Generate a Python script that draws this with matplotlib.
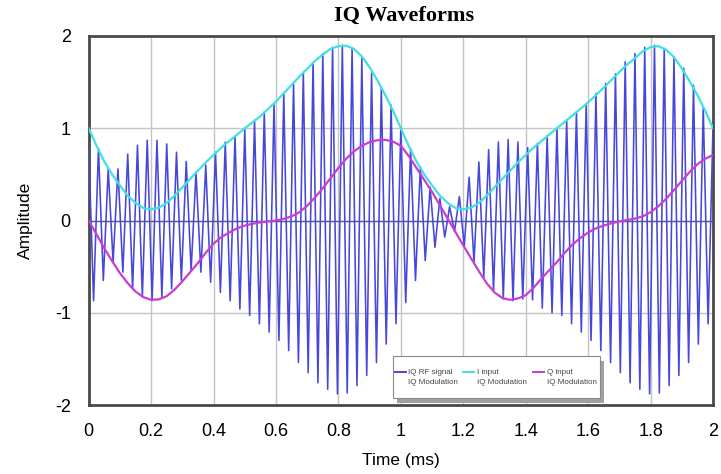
import numpy as np
import matplotlib
matplotlib.use("Agg")
import matplotlib.pyplot as plt
from matplotlib.patches import Rectangle
from matplotlib.lines import Line2D

plt.rcParams["axes.unicode_minus"] = False

# I / Q baseband inputs, sampled every 0.025 ms
t_iq = np.arange(81) * 0.025
i_input = [1.00, 0.81, 0.64, 0.50, 0.38, 0.27, 0.19, 0.135, 0.12, 0.14,
           0.19, 0.27, 0.36, 0.45, 0.54, 0.63, 0.71, 0.79, 0.86, 0.93,
           1.00, 1.065, 1.13, 1.21, 1.29, 1.38, 1.47, 1.56, 1.645, 1.73,
           1.80, 1.86, 1.89, 1.895, 1.86, 1.78, 1.66, 1.52, 1.36, 1.19,
           1.00, 0.81, 0.64, 0.50, 0.38, 0.27, 0.19, 0.135, 0.12, 0.14,
           0.19, 0.27, 0.36, 0.45, 0.54, 0.63, 0.71, 0.79, 0.86, 0.93,
           1.00, 1.07, 1.14, 1.21, 1.28, 1.36, 1.44, 1.525, 1.61, 1.69,
           1.76, 1.835, 1.88, 1.89, 1.85, 1.77, 1.65, 1.51, 1.36, 1.19,
           1.00]
q_input = [0.00, -0.15, -0.30, -0.44, -0.57, -0.68, -0.77, -0.83, -0.86, -0.855,
           -0.82, -0.75, -0.66, -0.56, -0.46, -0.35, -0.25, -0.18, -0.13, -0.085,
           -0.055, -0.035, -0.02, -0.01, 0.00, 0.018, 0.045, 0.09, 0.16, 0.25,
           0.35, 0.46, 0.57, 0.67, 0.75, 0.81, 0.85, 0.87, 0.875, 0.855,
           0.81, 0.70, 0.57, 0.44, 0.31, 0.165, 0.02, -0.125, -0.27, -0.41,
           -0.55, -0.68, -0.78, -0.84, -0.86, -0.845, -0.81, -0.73, -0.63, -0.54,
           -0.45, -0.35, -0.26, -0.19, -0.13, -0.085, -0.055, -0.03, -0.01, 0.005,
           0.02, 0.045, 0.09, 0.155, 0.235, 0.33, 0.43, 0.525, 0.61, 0.67,
           0.71]

# RF carrier peaks (32 kHz): maxima at k/32 ms, minima half a cycle later
rf_max = [0.80, 0.78, 0.56, 0.56, 0.72, 0.815, 0.87, 0.87, 0.83, 0.74,
          0.64, 0.525, 0.60, 0.74, 0.85, 0.91, 0.99,
          1.087, 1.177, 1.268, 1.377, 1.486, 1.61, 1.714, 1.81, 1.877,
          1.90, 1.866, 1.76, 1.60, 1.44, 1.25, 1.01,
          0.78, 0.58, 0.36, 0.24, 0.15, 0.26, 0.47, 0.634, 0.768,
          0.851, 0.877, 0.851, 0.79, 0.835, 0.92, 1.00,
          1.087, 1.177, 1.268, 1.377, 1.486, 1.59, 1.72, 1.81, 1.877,
          1.90, 1.866, 1.775, 1.65, 1.467, 1.23, 1.01]
rf_min = [-0.87, -0.65, -0.45, -0.56, -0.74, -0.83, -0.87, -0.83, -0.74, -0.65,
          -0.54, -0.56, -0.67, -0.78, -0.87, -0.96,
          -1.03, -1.12, -1.21, -1.30, -1.41, -1.54, -1.65, -1.76, -1.83,
          -1.88, -1.87, -1.79, -1.68, -1.54, -1.34, -1.12,
          -0.89, -0.65, -0.435, -0.29, -0.18, -0.12, -0.28, -0.45, -0.62,
          -0.76, -0.85, -0.87, -0.85, -0.86, -0.95, -1.00,
          -1.03, -1.12, -1.21, -1.30, -1.41, -1.54, -1.65, -1.76, -1.83,
          -1.88, -1.87, -1.79, -1.68, -1.54, -1.34, -1.12]
carrier_khz = 32

rf = np.empty(len(rf_max) + len(rf_min))
rf[0::2] = rf_max
rf[1::2] = rf_min
t_rf = np.arange(len(rf)) / (2.0 * carrier_khz)

W, H = 721, 474
fig = plt.figure(figsize=(W / 100, H / 100), dpi=100)
ax = fig.add_axes([88.7 / W, 1 - 405 / H, (713 - 88.7) / W, (405 - 36) / H])

ax.plot(t_rf, rf, color="#4747da", lw=1.15, zorder=3)
ax.plot(t_iq, i_input, color="#3fe0e6", lw=1.6, zorder=4, solid_joinstyle="round")
ax.plot(t_iq, q_input, color="#c83cd8", lw=1.6, zorder=4, solid_joinstyle="round")
ax.axhline(0, color="#5a5a8c", lw=1.0, zorder=2)

ax.set_xlim(0, 2)
ax.set_ylim(-2, 2)
ax.set_xticks(np.arange(0, 2.01, 0.2))
ax.set_xticklabels(["0", "0.2", "0.4", "0.6", "0.8", "1", "1.2", "1.4",
                    "1.6", "1.8", "2"])
ax.set_yticks([-2, -1, 0, 1, 2])
ax.grid(True, color="#c4c4c4", lw=1.0)
ax.set_axisbelow(True)
ax.tick_params(length=0, labelsize=13, pad=13)
for lab in ax.get_xticklabels() + ax.get_yticklabels():
    lab.set_family("Liberation Sans")
for sp in ax.spines.values():
    sp.set_color("#4a4a4a")
    sp.set_linewidth(2.0)

ax.set_xlabel("Time (ms)", family="Liberation Sans", fontsize=12.5, labelpad=9)
ax.set_ylabel("Amplitude", family="Liberation Sans", fontsize=12.5, labelpad=16)
fig.text(404 / W, 1 - 16 / H, "IQ Waveforms", family="Liberation Serif",
         weight="bold", fontsize=16, ha="center", va="center")

# legend box with drop shadow
def fx(x):
    return x / W


def fy(y):
    return 1 - y / H


bx0, bx1, by0, by1 = 393, 600, 356, 398
fig.patches.append(Rectangle((fx(bx0 + 4), fy(by1 + 5)), fx(bx1 - bx0), (by1 - by0) / H,
                             transform=fig.transFigure, facecolor="#a0a0a0",
                             edgecolor="none", zorder=5))
fig.patches.append(Rectangle((fx(bx0), fy(by1)), fx(bx1 - bx0), (by1 - by0) / H,
                             transform=fig.transFigure, facecolor="white",
                             edgecolor="#8a8a8a", lw=0.8, zorder=6))
entries = [("IQ RF signal", "#4747da", 395, 408),
           ("I input", "#3fe0e6", 463, 477),
           ("Q input", "#c83cd8", 533, 547)]
for name, col, lx, tx in entries:
    fig.lines.append(Line2D([fx(lx), fx(lx + 11)], [fy(372), fy(372)],
                            transform=fig.transFigure, color=col, lw=1.4, zorder=7))
    fig.text(fx(tx), fy(372), name, family="Liberation Sans", fontsize=5.8,
             color="#444444", va="center", zorder=7)
    fig.text(fx(tx), fy(382.5), "IQ Modulation", family="Liberation Sans",
             fontsize=5.8, color="#444444", va="center", zorder=7)

fig.savefig("out.png", dpi=100)
